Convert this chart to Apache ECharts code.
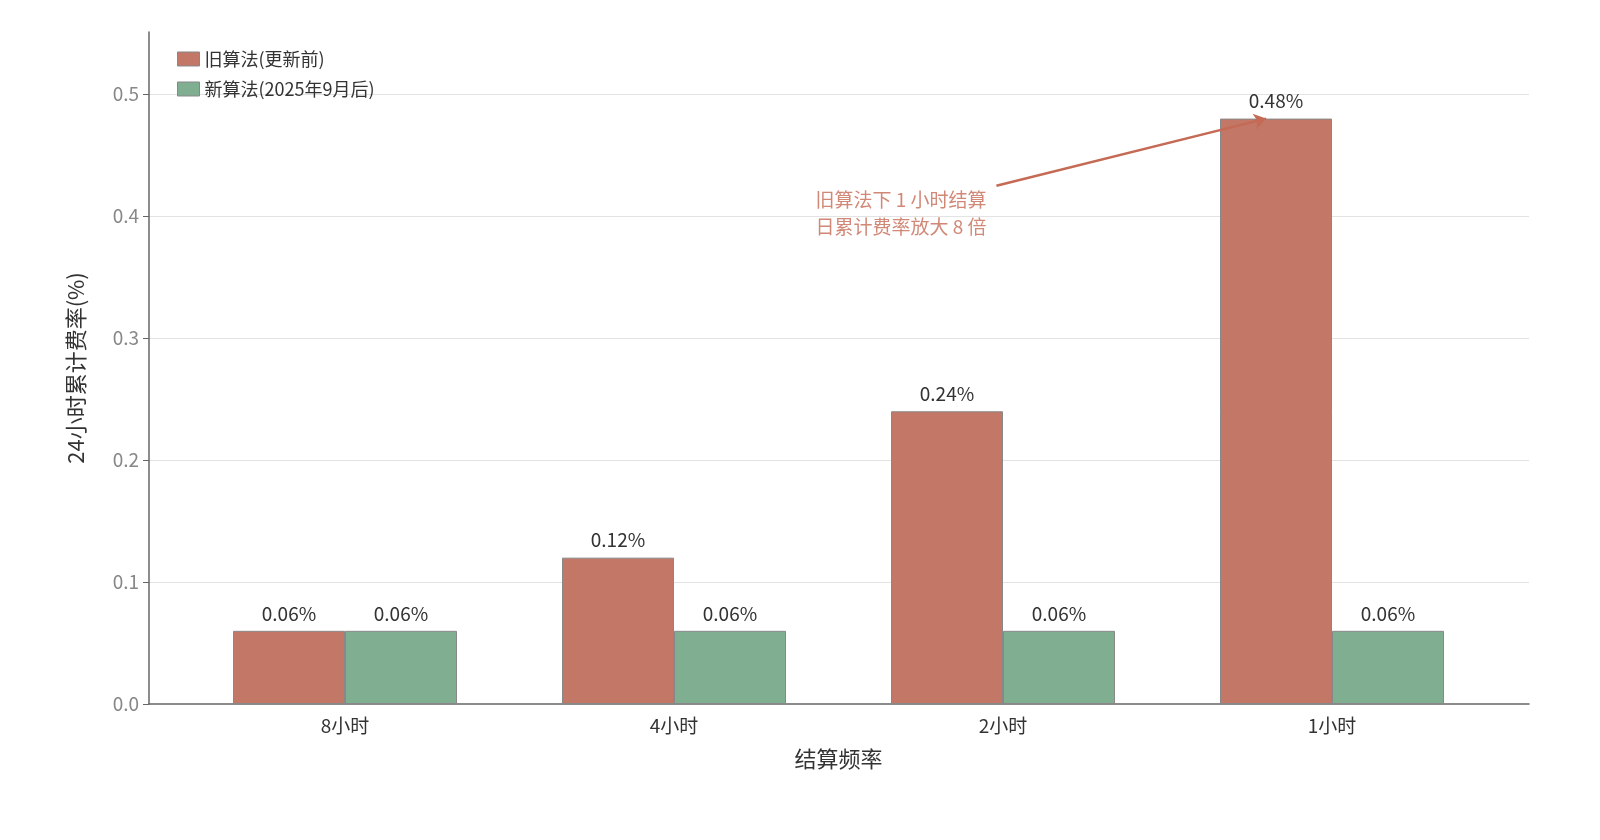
<!DOCTYPE html>
<html><head><meta charset="utf-8">
<script src="https://cdn.jsdelivr.net/npm/echarts@6/dist/echarts.min.js"></script>
<style>html,body{margin:0;background:#fff}#c{width:1600px;height:840px}</style>
</head><body><div id="c"></div>
<script>
const categories = ['8小时','4小时','2小时','1小时'];
const oldValues = [0.06, 0.12, 0.24, 0.48];
const newValues = [0.06, 0.06, 0.06, 0.06];
const gridValues = [0.1, 0.2, 0.3, 0.4, 0.5];
const oldName = '旧算法(更新前)';
const newName = '新算法(2025年9月后)';
const noteText = '旧算法下 1 小时结算\n日累计费率放大 8 倍';
const arrowFrom = [1.98, 0.425];
const arrowTo = [2.8, 0.48];
const noteAt = [1.95, 0.402];

const F = '"Noto Sans CJK SC", "Noto Sans", sans-serif';
const RED = '#c27767', GREEN = '#7fae91';
const chart = echarts.init(document.getElementById('c'));
chart.setOption({
  textStyle: {fontFamily: F},
  animation: false,
  legend: {
    orient: 'vertical', left: 172, top: 45, itemWidth: 22, itemHeight: 14, itemGap: 12,
    textStyle: {fontSize: 18, color: '#333', fontFamily: F},
    data: [{name: oldName, icon: 'rect', itemStyle:{color:RED, borderColor:'#888', borderWidth:1}},
           {name: newName, icon: 'rect', itemStyle:{color:GREEN, borderColor:'#888', borderWidth:1}}]
  },
  grid: [
    {left: 149, right: 71, top: 32, bottom: 136},
    {left: 180.5, right: 103.5, top: 32, bottom: 136}
  ],
  xAxis: [
    {type: 'value', gridIndex: 0, min: -0.596, max: 3.599,
     axisLine: {show: true, onZero: false, lineStyle: {color: '#666', width: 1.5}},
     axisTick: {show: false}, axisLabel: {show: false}, splitLine: {show: false}},
    {type: 'category', gridIndex: 1, data: categories,
     axisLine: {show: false}, axisTick: {show: false},
     axisLabel: {fontSize: 19, color: '#333', margin: 12},
     name: '结算频率', nameLocation: 'middle', nameGap: 44,
     nameTextStyle: {fontSize: 22, color: '#333'}}
  ],
  yAxis: [
    {type: 'value', gridIndex: 0, min: 0, max: 0.551, interval: 0.1,
     axisLine: {show: true, onZero: false, lineStyle: {color: '#666', width: 1.5}},
     axisTick: {show: true, length: 6, lineStyle: {color: '#666'}},
     axisLabel: {fontSize: 19, color: '#888', showMaxLabel: false, margin: 10,
       formatter: v => v.toFixed(1)},
     splitLine: {show: false},
     name: '24小时累计费率(%)', nameLocation: 'middle', nameGap: 62,
     nameTextStyle: {fontSize: 22, color: '#333'}},
    {type: 'value', gridIndex: 1, min: 0, max: 0.551, show: false, splitLine:{show:false}}
  ],
  series: [
    {type: 'line', xAxisIndex: 0, yAxisIndex: 0, data: [], z: 0,
     markLine: {silent: true, symbol: 'none', label: {show: false}, z: 0, zlevel: 0,
       lineStyle: {color: '#e3e3e3', type: 'solid', width: 1.2},
       data: gridValues.map(v => ({yAxis: v}))}},
    {name: oldName, type: 'bar', xAxisIndex: 1, yAxisIndex: 1, data: oldValues,
     barWidth: 112, barGap: '0%', z: 6,
     itemStyle: {color: RED, borderColor: '#888', borderWidth: 1},
     label: {show: true, position: 'top', distance: 8, fontSize: 19, color: '#333',
       formatter: p => p.value.toFixed(2) + '%'}},
    {name: newName, type: 'bar', xAxisIndex: 1, yAxisIndex: 1, data: newValues,
     barWidth: 112, barGap: '0%', z: 6,
     itemStyle: {color: GREEN, borderColor: '#888', borderWidth: 1},
     label: {show: true, position: 'top', distance: 8, fontSize: 19, color: '#333',
       formatter: p => p.value.toFixed(2) + '%'}},
    {type: 'scatter', xAxisIndex: 0, yAxisIndex: 0, symbolSize: 0, z: 7,
     data: [noteAt],
     label: {show: true, position: 'left', distance: 0, align: 'right',
       formatter: noteText, fontSize: 19, lineHeight: 27, color: '#c56a55'},
     markLine: {silent: true, symbol: ['none', 'arrow'], symbolSize: 12, z: 8,
       label: {show: false},
       lineStyle: {color: '#c56a55', width: 2.5, type: 'solid'},
       data: [[{coord: arrowFrom}, {coord: arrowTo}]]}}
  ]
});
</script></body></html>
